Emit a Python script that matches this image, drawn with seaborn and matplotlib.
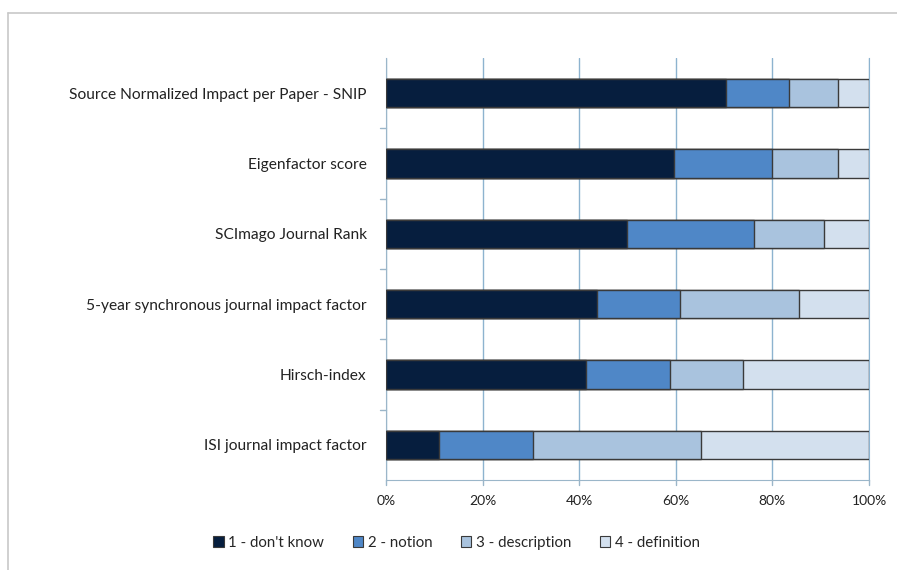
import numpy as np
import pandas as pd
import matplotlib
matplotlib.use("Agg")
import matplotlib.pyplot as plt
import seaborn as sns
from matplotlib.patches import Patch
from matplotlib.lines import Line2D

# --- Data (percent of respondents) ---
indicators = [
    "Source Normalized Impact per Paper - SNIP",
    "Eigenfactor score",
    "SCImago Journal Rank",
    "5-year synchronous journal impact factor",
    "Hirsch-index",
    "ISI journal impact factor",
]
dont_know = [70.4, 59.6, 50.0, 43.6, 41.5, 10.9]
notion = [13.1, 20.3, 26.2, 17.3, 17.2, 19.5]
description = [10.0, 13.6, 14.5, 24.7, 15.3, 34.8]
definition = [6.5, 6.5, 9.3, 14.4, 26.0, 34.8]

levels = ["1 - don't know", "2 - notion", "3 - description", "4 - definition"]
colors = ["#061e3e", "#4f87c7", "#a9c3de", "#d3e0ee"]

df = pd.DataFrame({
    "indicator": indicators,
    levels[0]: dont_know,
    levels[1]: notion,
    levels[2]: description,
    levels[3]: definition,
})
cum = df[levels].cumsum(axis=1)
cum["indicator"] = df["indicator"]

# --- Plot ---
sns.set_style("white")
plt.rcParams["font.family"] = ["Lato", "DejaVu Sans"]

fig = plt.figure(figsize=(8.97, 5.70), dpi=100)
ax = fig.add_axes([0.4303, 0.1579, 0.5385, 0.7404])

# stacked bars: draw widest cumulative first
for lvl, col in reversed(list(zip(levels, colors))):
    sns.barplot(data=cum, y="indicator", x=lvl, color=col, orient="h",
                saturation=1, width=0.4, edgecolor="#3a3a3a", linewidth=1.0,
                ax=ax, zorder=3)

ax.set_xlim(0, 100)
ax.set_ylim(5.5, -0.5)
ax.set_xticks(np.arange(0, 101, 20))
ax.set_xticklabels([f"{v}%" for v in range(0, 101, 20)], fontsize=10, color="#222222")
ax.set_yticks(range(len(indicators)))
ax.set_yticklabels(indicators, fontsize=11.2, color="#222222")
ax.set_xlabel("")
ax.set_ylabel("")

ax.xaxis.grid(True, color="#8db3cf", linewidth=1.0, zorder=0)
ax.set_axisbelow(True)
ax.spines["top"].set_visible(False)
ax.spines["right"].set_color("#8db3cf")
ax.spines["left"].set_color("#9bb6c9")
ax.spines["bottom"].set_color("#9bb6c9")
ax.tick_params(axis="y", length=0, pad=14)
ax.tick_params(axis="x", length=0, pad=11)

# small tick marks between categories and under x ticks
for y in np.arange(0.5, 5.5, 1.0):
    ax.plot([-0.012, 0], [y, y], transform=ax.get_yaxis_transform(),
            color="#9bb6c9", lw=1, clip_on=False)
for x in range(0, 101, 20):
    ax.plot([x, x], [-0.012, 0], transform=ax.get_xaxis_transform(),
            color="#9bb6c9", lw=1, clip_on=False)

handles = [Patch(facecolor=c, edgecolor="#3a3a3a", linewidth=0.8) for c in colors]
fig.legend(handles, levels, loc="center", bbox_to_anchor=(0.509, 0.048), ncol=4,
           frameon=False, fontsize=10.8, handlelength=0.7, handleheight=0.7,
           handletextpad=0.3, columnspacing=1.9)

# outer chart frame (top and left edges visible)
fig.add_artist(Line2D([8 / 897, 1], [1 - 13 / 570, 1 - 13 / 570], color="#c8c8c8", lw=1.2))
fig.add_artist(Line2D([8 / 897, 8 / 897], [0, 1 - 13 / 570], color="#c8c8c8", lw=1.2))

fig.savefig("out.png", dpi=100)
